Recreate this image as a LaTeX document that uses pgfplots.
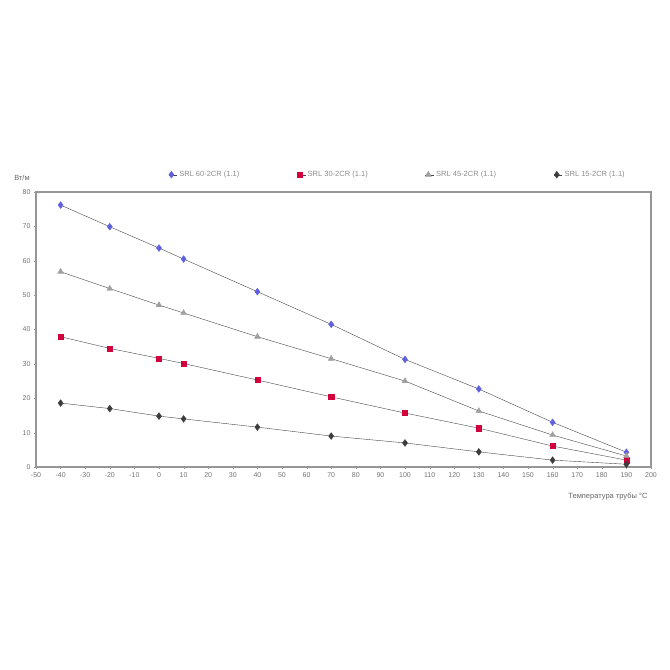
\documentclass[border=0pt]{standalone}
\usepackage{fontspec}
\setmainfont{Liberation Sans}
\usepackage{pgfplots}
\pgfplotsset{compat=1.18}
\definecolor{lgray}{RGB}{150,150,150}
\definecolor{lineg}{RGB}{70,70,70}
\definecolor{sblue}{RGB}{95,95,225}
\definecolor{sred}{RGB}{210,0,60}
\definecolor{stri}{RGB}{160,160,160}
\definecolor{sdark}{RGB}{60,60,60}
\begin{document}
\begin{tikzpicture}
\begin{axis}[
  at={(0,0)}, anchor=south west,
  scale only axis, width=615pt, height=275pt,
  xmin=-50, xmax=200, ymin=0, ymax=80,
  xtick={-50,-40,...,200}, ytick={0,10,...,80},
  axis line style={lgray, line width=1.2pt},
  tick style={lgray}, tick align=outside, major tick length=2pt,
  xtick pos=bottom, ytick pos=left,
  /pgf/number format/assume math mode=true,
  ticklabel style={font=\fontsize{7}{8}\selectfont, text=black!55},
  xlabel={Температура трубы °C},
  xlabel style={at={(rel axis cs:1,0)}, anchor=north east, yshift=-22pt, font=\fontsize{7.5}{9}\selectfont, text=black!60},
  ylabel={Вт/м},
  ylabel style={rotate=-90, at={(rel axis cs:0,1)}, anchor=south, xshift=-14pt, yshift=8pt, font=\fontsize{7.5}{9}\selectfont, text=black!60},
  legend columns=4,
  legend image code/.code={\path (0cm,0cm) -- (0.3cm,0cm); \path[#1] plot coordinates {(0.1cm,0cm)};},
  legend style={draw=none, fill=none, at={(rel axis cs:0.21,1.035)}, anchor=south west,
    font=\fontsize{7.5}{9}\selectfont, text=black!45,
    /tikz/every even column/.append style={column sep=55.5pt}},
  legend cell align=left,
]
\addplot[lineg, thin, mark=diamond*, mark size=3.4pt, mark options={fill=sblue, draw=sblue}]
coordinates {(-40,76.2)(-20,69.9)(0,63.7)(10,60.5)(40,51.0)(70,41.5)(100,31.3)(130,22.7)(160,13.0)(190,4.3)};
\addlegendentry{SRL 60-2CR (1.1)}
\addplot[lineg, thin, mark=square*, mark size=2.6pt, mark options={fill=sred, draw=sred}]
coordinates {(-40,37.9)(-20,34.5)(0,31.6)(10,30.1)(40,25.3)(70,20.4)(100,15.7)(130,11.3)(160,6.1)(190,2.0)};
\addlegendentry{SRL 30-2CR (1.1)}
\addplot[lineg, thin, mark=triangle*, mark size=3.4pt, mark options={fill=stri, draw=stri}]
coordinates {(-40,56.8)(-20,51.9)(0,47.1)(10,44.8)(40,37.9)(70,31.5)(100,25.0)(130,16.3)(160,9.3)(190,3.2)};
\addlegendentry{SRL 45-2CR (1.1)}
\addplot[lineg, thin, mark=diamond*, mark size=3.4pt, mark options={fill=sdark, draw=sdark}]
coordinates {(-40,18.6)(-20,17.0)(0,14.8)(10,14.0)(40,11.6)(70,9.0)(100,7.0)(130,4.4)(160,2.0)(190,0.8)};
\addlegendentry{SRL 15-2CR (1.1)}
\end{axis}
\path (-36pt,-203pt) rectangle (634pt,467pt);
\end{tikzpicture}
\end{document}
